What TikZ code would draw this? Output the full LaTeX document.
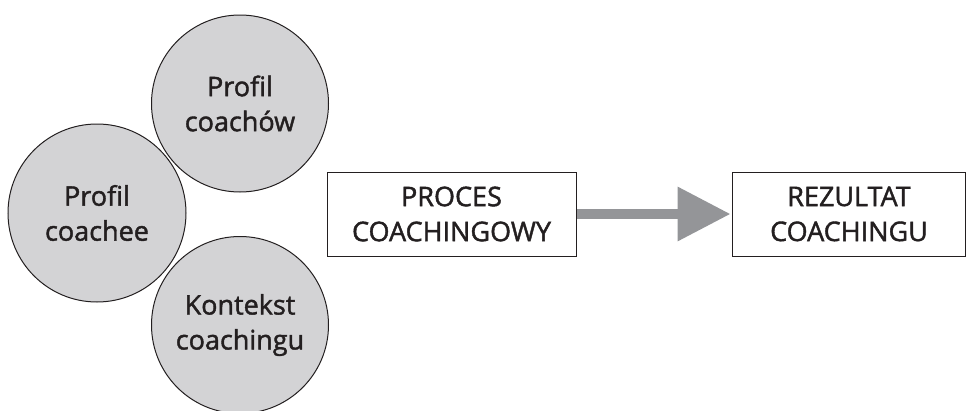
\documentclass[tikz,border=0pt]{standalone}
\usepackage{fontspec}
\setmainfont{Open Sans}[FakeBold=1.5]
\usetikzlibrary{arrows.meta}
\definecolor{circfill}{RGB}{211,211,213}
\definecolor{arrgray}{RGB}{148,149,152}
\definecolor{ink}{RGB}{35,31,32}
\tikzset{
  circ/.style={circle, draw=ink, line width=1pt, fill=circfill, minimum size=177pt, inner sep=0pt, align=center, text=ink, font=\fontsize{27}{35}\selectfont},
  boxnode/.style={rectangle, draw=ink, line width=1pt, fill=white, minimum height=84pt, inner sep=0pt, align=center, text=ink, font=\fontsize{27}{35}\selectfont},
  bigarrow/.style={line width=10pt, draw=arrgray, -{Triangle[width=52pt,length=53pt]}}
}
\begin{document}
\begin{tikzpicture}[x=1pt,y=-1pt]
\useasboundingbox (0,0) rectangle (967,410);
\begin{scope}
\clip (0,0) rectangle (967,410);
\node[circ, minimum size=178pt] (coachee) at (97,213) {Profil\\coachee};
\node[circ] (coachow) at (240,103.5) {Profil\\coachów};
\node[circ] (kontekst) at (240,325) {Kontekst\\coachingu};
\end{scope}
\node[boxnode, minimum width=249pt] (proces) at (451.5,214) {PROCES\\COACHINGOWY};
\node[boxnode, minimum width=233pt] (rezultat) at (849,214) {REZULTAT\\COACHINGU};
\draw[bigarrow, shorten >=1.5pt, shorten <=0.5pt] (proces.east) -- (rezultat.west);
\end{tikzpicture}
\end{document}
